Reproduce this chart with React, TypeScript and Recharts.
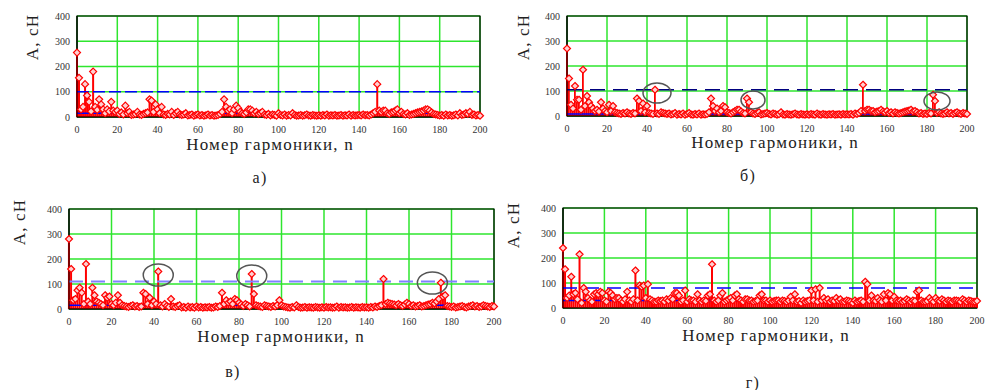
import React from 'react';
import { ComposedChart, Bar, Scatter, XAxis, YAxis, CartesianGrid, ReferenceLine, ReferenceArea, ReferenceDot } from 'recharts';

// harmonic numbers 0..200
const harmonics = Array.from({ length: 201 }, (_, i) => i);
const xTicks = [0, 20, 40, 60, 80, 100, 120, 140, 160, 180, 200];
const yTicks = [0, 100, 200, 300, 400];

// amplitudes, сН
const ampA = [
  255, 155, 30, 40, 130, 85, 60, 22, 180, 40,
  28, 70, 50, 30, 15, 30, 22, 60, 25, 20,
  25, 12, 18, 10, 45, 15, 20, 8, 10, 12,
  20, 10, 8, 12, 15, 18, 70, 65, 20, 50,
  30, 15, 40, 10, 8, 12, 10, 20, 8, 15,
  20, 10, 8, 10, 15, 6, 8, 10, 5, 8,
  10, 6, 8, 5, 7, 10, 6, 8, 5, 6,
  8, 12, 20, 70, 40, 25, 30, 15, 30, 45,
  35, 20, 15, 12, 18, 30, 30, 25, 15, 20,
  12, 15, 20, 10, 8, 12, 6, 10, 8, 5,
  15, 8, 6, 10, 5, 8, 6, 15, 8, 5,
  6, 8, 5, 7, 10, 6, 5, 8, 6, 5,
  7, 5, 8, 6, 10, 5, 7, 6, 8, 5,
  6, 8, 5, 7, 6, 10, 5, 8, 6, 7,
  8, 6, 10, 7, 8, 6, 10, 15, 20, 130,
  25, 20, 25, 25, 15, 12, 18, 20, 25, 30,
  15, 20, 12, 10, 15, 8, 10, 12, 15, 18,
  20, 22, 25, 30, 30, 25, 18, 12, 10, 8,
  6, 8, 5, 10, 6, 8, 5, 7, 10, 6,
  15, 8, 10, 15, 12, 20, 8, 10, 6, 8,
  5,
];

const ampB = [
  270, 150, 45, 30, 120, 65, 65, 25, 185, 40,
  80, 55, 40, 30, 20, 25, 18, 55, 30, 20,
  15, 45, 20, 40, 15, 12, 10, 8, 12, 10,
  15, 10, 8, 12, 10, 70, 60, 20, 50, 15,
  40, 12, 10, 8, 105, 10, 8, 15, 12, 10,
  8, 10, 6, 8, 12, 5, 8, 6, 10, 5,
  8, 12, 6, 5, 8, 6, 10, 5, 7, 6,
  8, 15, 70, 40, 20, 30, 15, 20, 40, 35,
  15, 12, 10, 15, 20, 25, 25, 18, 12, 10,
  70, 55, 15, 10, 8, 12, 15, 6, 8, 10,
  12, 8, 6, 10, 8, 5, 7, 15, 6, 5,
  8, 6, 5, 7, 10, 6, 5, 8, 6, 5,
  7, 5, 8, 6, 5, 10, 6, 5, 8, 6,
  5, 7, 6, 8, 5, 6, 7, 5, 8, 6,
  7, 6, 8, 5, 10, 8, 12, 20, 125, 20,
  25, 25, 20, 20, 15, 18, 20, 25, 18, 15,
  20, 12, 15, 10, 15, 12, 10, 12, 15, 18,
  20, 22, 25, 18, 20, 15, 10, 12, 8, 10,
  8, 12, 10, 85, 60, 12, 15, 10, 8, 10,
  15, 10, 12, 8, 12, 15, 10, 8, 12, 10,
  8,
];

const ampC = [
  280, 160, 35, 40, 75, 85, 65, 20, 180, 30,
  20, 85, 55, 30, 25, 20, 15, 55, 45, 50,
  20, 15, 25, 55, 25, 15, 12, 10, 8, 12,
  15, 10, 12, 8, 10, 65, 60, 20, 45, 15,
  30, 20, 150, 15, 10, 20, 12, 8, 40, 10,
  8, 12, 15, 6, 8, 5, 10, 6, 8, 5,
  10, 6, 8, 5, 7, 6, 8, 5, 6, 10,
  8, 12, 65, 20, 35, 25, 30, 20, 40, 35,
  25, 18, 12, 20, 15, 10, 140, 60, 15, 12,
  10, 8, 15, 12, 10, 8, 12, 10, 15, 35,
  15, 10, 8, 6, 5, 8, 6, 15, 8, 5,
  6, 8, 5, 7, 6, 5, 8, 6, 5, 7,
  5, 8, 6, 7, 5, 6, 10, 5, 8, 6,
  7, 5, 6, 8, 5, 7, 6, 5, 8, 6,
  7, 5, 8, 6, 10, 8, 12, 15, 120, 20,
  25, 22, 20, 18, 15, 20, 15, 12, 18, 25,
  20, 12, 15, 10, 12, 15, 10, 12, 15, 18,
  20, 25, 22, 30, 40, 105, 50, 55, 12, 10,
  8, 10, 6, 8, 10, 12, 8, 6, 10, 12,
  15, 10, 12, 8, 10, 15, 12, 10, 8, 12,
  10,
];

const ampD = [
  240, 155, 40, 50, 125, 55, 60, 35, 215, 20,
  80, 65, 40, 30, 25, 55, 60, 55, 65, 60,
  30, 25, 65, 60, 50, 35, 40, 40, 30, 25,
  35, 65, 30, 25, 35, 150, 30, 90, 85, 90,
  40, 95, 35, 30, 25, 25, 30, 28, 30, 25,
  35, 30, 40, 35, 60, 60, 50, 25, 30, 70,
  25, 35, 30, 30, 25, 55, 30, 25, 30, 28,
  50, 55, 175, 30, 25, 30, 50, 60, 25, 30,
  35, 40, 30, 50, 55, 35, 30, 25, 35, 35,
  30, 30, 25, 28, 30, 50, 55, 30, 30, 25,
  30, 25, 28, 30, 30, 25, 30, 28, 25, 30,
  45, 30, 55, 25, 28, 20, 30, 25, 28, 30,
  70, 30, 75, 25, 80, 30, 40, 30, 35, 25,
  30, 28, 40, 30, 35, 25, 25, 30, 28, 25,
  20, 30, 25, 28, 30, 25, 105, 95, 30, 50,
  30, 28, 40, 30, 25, 55, 30, 60, 55, 30,
  45, 30, 28, 30, 25, 28, 35, 30, 25, 30,
  28, 65, 70, 30, 25, 25, 28, 40, 30, 25,
  40, 30, 28, 35, 30, 25, 30, 28, 25, 30,
  30, 28, 25, 35, 30, 25, 30, 28, 25, 25,
  28,
];

// circled harmonics: [n, A, rx, ry]
const marksB = [[45, 92, 14, 10], [93, 64, 12, 9], [185, 60, 13, 9]];
const marksC = [[42, 136, 15, 11], [86, 132, 15, 11], [171, 104, 15, 11]];

const serif = '"Liberation Serif", "DejaVu Serif", serif';

const Diamond = (p: any) => {
  const { cx, cy } = p;
  if (cx == null || cy == null) return null;
  const s = 3.5;
  return (
    <path
      d={`M${cx},${cy - s} L${cx + s},${cy} L${cx},${cy + s} L${cx - s},${cy} Z`}
      fill="#ffd0d0"
      stroke="#ff0000"
      strokeWidth={1.2}
    />
  );
};

interface PanelProps {
  values: number[];
  left: number;
  top: number;
  w: number;
  h: number;
  dashY: number;
  dashColor: string;
  dashWidth: number;
  dashArray: string;
  solidY: number;
  marks?: number[][];
}

function Panel({ values, left, top, w, h, dashY, dashColor, dashWidth, dashArray, solidY, marks = [] }: PanelProps) {
  const rows = harmonics.map((n, i) => ({ n, v: values[i] }));
  const tick = { fontSize: 10, fill: '#333', fontFamily: serif };
  return (
    <div style={{ position: 'absolute', left: left - 30, top: top - 8 }}>
      <ComposedChart width={w + 44} height={h + 26} data={rows} margin={{ top: 8, right: 14, left: 0, bottom: 0 }}>
        <CartesianGrid stroke="#2ee62e" strokeWidth={1.5} />
        <XAxis
          dataKey="n"
          type="number"
          domain={[0, 200]}
          ticks={xTicks}
          interval={0}
          tick={tick}
          tickLine={false}
          tickMargin={3}
          axisLine={{ stroke: '#000' }}
          height={18}
        />
        <YAxis
          type="number"
          domain={[0, 400]}
          ticks={yTicks}
          interval={0}
          tick={tick}
          tickLine={false}
          tickMargin={1}
          axisLine={{ stroke: '#000' }}
          width={30}
        />
        <Bar dataKey="v" fill="#ff0000" barSize={2} isAnimationActive={false} />
        <Scatter dataKey="v" shape={Diamond} isAnimationActive={false} />
        <ReferenceLine y={dashY} stroke={dashColor} strokeWidth={dashWidth} strokeDasharray={dashArray} />
        <ReferenceLine y={solidY} stroke="#0000ff" strokeWidth={1.5} />
        <ReferenceArea x1={0} x2={200} y1={0} y2={400} fill="none" stroke="#000" strokeWidth={1.2} fillOpacity={0} />
        {marks.map((m, i) => (
          <ReferenceDot
            key={i}
            x={m[0]}
            y={m[1]}
            r={m[2]}
            shape={(p: any) => (
              <ellipse cx={p.cx} cy={p.cy} rx={m[2]} ry={m[3]} fill="none" stroke="#555" strokeWidth={1.5} />
            )}
          />
        ))}
      </ComposedChart>
    </div>
  );
}

function Text({ x, y, size, children, rotate }: { x: number; y: number; size: number; children: React.ReactNode; rotate?: boolean }) {
  return (
    <div
      style={{
        position: 'absolute',
        left: x,
        top: y,
        transform: `translate(-50%, -50%)${rotate ? ' rotate(-90deg)' : ''}`,
        fontFamily: serif,
        fontSize: size,
        color: '#222',
        whiteSpace: 'nowrap',
        letterSpacing: 1.2,
      }}
    >
      {children}
    </div>
  );
}

export default function App() {
  return (
    <div style={{ position: 'absolute', left: 0, top: 0, width: 991, height: 390, background: '#fff', overflow: 'hidden' }}>
      <Panel values={ampA} left={77} top={16} w={403} h={101} dashY={100} dashColor="#0000ff" dashWidth={1.5} dashArray="12 4" solidY={15} />
      <Panel values={ampB} left={567} top={16} w={400} h={100} dashY={105} dashColor="#000080" dashWidth={1.5} dashArray="15 8" solidY={8} marks={marksB} />
      <Panel values={ampC} left={69} top={209} w={425} h={100} dashY={110} dashColor="#8080ff" dashWidth={2.2} dashArray="14 8" solidY={15} marks={marksC} />
      <Panel values={ampD} left={563} top={208} w={414} h={100} dashY={80} dashColor="#0000ff" dashWidth={1.5} dashArray="14 8" solidY={30} />

      <Text x={33} y={37} size={17} rotate>А, сН</Text>
      <Text x={524} y={37} size={17} rotate>А, сН</Text>
      <Text x={20} y={222} size={17} rotate>А, сН</Text>
      <Text x={514} y={225} size={17} rotate>А, сН</Text>

      <Text x={270} y={145} size={17}>Номер гармоники, n</Text>
      <Text x={775} y={143} size={17}>Номер гармоники, n</Text>
      <Text x={281} y={337} size={17}>Номер гармоники, n</Text>
      <Text x={766} y={336} size={17}>Номер гармоники, n</Text>

      <Text x={260} y={178} size={16}>а)</Text>
      <Text x={748} y={176} size={16}>б)</Text>
      <Text x={233} y={372} size={16}>в)</Text>
      <Text x={753} y={383} size={16}>г)</Text>
    </div>
  );
}
